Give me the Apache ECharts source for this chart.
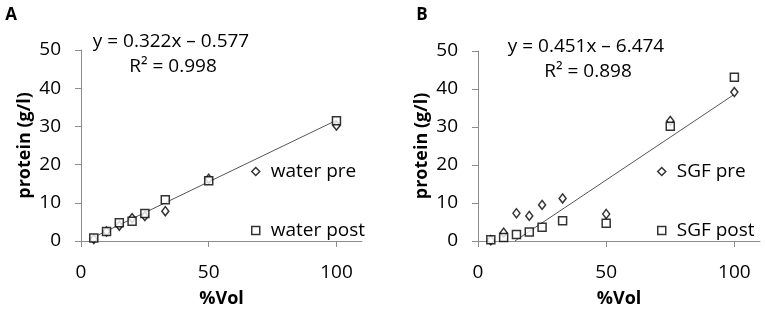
<!DOCTYPE html>
<html>
<head>
<meta charset="utf-8">
<script src="https://cdn.jsdelivr.net/npm/echarts@6/dist/echarts.min.js"></script>
<style>
  html, body { margin: 0; padding: 0; background: #fff; }
  #chart { width: 765px; height: 316px; }
</style>
</head>
<body>
<div id="chart"></div>
<script>
// panel A : water
const volA = [5, 10, 15, 20, 25, 33, 50, 100];
const waterPre = [0.5, 2.5, 4.0, 6.0, 6.5, 7.8, 16.3, 30.2];
const waterPost = [0.8, 2.5, 4.8, 5.2, 7.2, 10.8, 15.8, 31.5];
const trendA = [[5, 1.0], [100, 31.6]];

// panel B : SGF
const volB = [5, 10, 15, 20, 25, 33, 50, 75, 100];
const sgfPre = [0.2, 2.2, 7.3, 6.6, 9.5, 11.2, 7.1, 31.6, 39.2];
const sgfPost = [0.3, 0.9, 1.7, 2.4, 3.6, 5.3, 4.7, 30.2, 43.1];
const trendB = [[14.4, 0], [100, 38.6]];

const xTicks = [0, 50, 100];
const FONT = 'Open Sans';

function pairs(xs, ys) {
    return xs.map((x, i) => [x, ys[i]]);
}

function makeX(gridIndex) {
    return {
        type: 'value', gridIndex: gridIndex, min: 0, max: 110,
        name: '%Vol', nameLocation: 'middle', nameGap: 49,
        nameTextStyle: { fontFamily: FONT, fontSize: 18, fontWeight: 'bold', color: '#000' },
        axisLine: { lineStyle: { color: '#8c8c8c', width: 1 } },
        axisTick: { show: true, length: 6, customValues: xTicks, lineStyle: { color: '#8c8c8c' } },
        axisLabel: { customValues: xTicks, fontFamily: FONT, fontSize: 19, color: '#000', margin: 22 },
        splitLine: { show: false }
    };
}

function makeY(gridIndex) {
    return {
        type: 'value', gridIndex: gridIndex, min: 0, max: 50, interval: 10,
        name: 'protein (g/l)', nameLocation: 'middle', nameGap: 47,
        nameTextStyle: { fontFamily: FONT, fontSize: 18, fontWeight: 'bold', color: '#000' },
        axisLine: { show: true, lineStyle: { color: '#8c8c8c', width: 1 } },
        axisTick: { show: true, length: 6, lineStyle: { color: '#8c8c8c' } },
        axisLabel: { fontFamily: FONT, fontSize: 19, color: '#000', margin: 20 },
        splitLine: { show: false }
    };
}

function scatter(name, idx, data, symbol, size) {
    return {
        name: name, type: 'scatter', xAxisIndex: idx, yAxisIndex: idx,
        data: data, symbol: symbol, symbolSize: size,
        itemStyle: { color: '#fff', borderColor: '#000', borderWidth: 1.5 },
        z: 3
    };
}

function trend(idx, data) {
    return {
        type: 'line', xAxisIndex: idx, yAxisIndex: idx, data: data,
        symbol: 'none', lineStyle: { color: '#555', width: 1 }, z: 2, silent: true
    };
}

function legend(left, names) {
    return {
        orient: 'vertical', left: left, top: 162, padding: 0,
        itemWidth: 8, itemHeight: 8, itemGap: 40,
        itemStyle: { color: '#fff', borderColor: '#000', borderWidth: 1.5 },
        textStyle: { fontFamily: FONT, fontSize: 19, color: '#000', padding: [0, 0, 0, 6] },
        data: names
    };
}

function label(text, x, y, size, bold) {
    return {
        type: 'text', x: x, y: y,
        style: {
            text: text, fontFamily: FONT, fontSize: size, fontWeight: bold ? 'bold' : 'normal',
            fill: '#000', align: 'center', verticalAlign: 'middle'
        }
    };
}

let chart = echarts.init(document.getElementById('chart'));

let options = {
    animation: false,
    backgroundColor: '#fff',
    grid: [
        { left: 81, right: 403, top: 50, bottom: 75 },
        { left: 478, right: 5, top: 51, bottom: 75 }
    ],
    xAxis: [makeX(0), makeX(1)],
    yAxis: [makeY(0), makeY(1)],
    legend: [
        legend(251, ['water pre', 'water post']),
        legend(657, ['SGF pre', 'SGF post'])
    ],
    graphic: [
        label('A', 11, 15, 17, true),
        label('B', 422, 15, 17, true),
        label('y = 0.322x \u2013 0.577', 171, 42, 19, false),
        label('R\u00b2 = 0.998', 173, 67, 19, false),
        label('y = 0.451x \u2013 6.474', 586, 47, 19, false),
        label('R\u00b2 = 0.898', 588, 72, 19, false)
    ],
    series: [
        trend(0, trendA),
        scatter('water pre', 0, pairs(volA, waterPre), 'diamond', [7, 9]),
        scatter('water post', 0, pairs(volA, waterPost), 'rect', 8),
        trend(1, trendB),
        scatter('SGF pre', 1, pairs(volB, sgfPre), 'diamond', [7, 9]),
        scatter('SGF post', 1, pairs(volB, sgfPost), 'rect', 8)
    ]
};

chart.setOption(options);
</script>
</body>
</html>
